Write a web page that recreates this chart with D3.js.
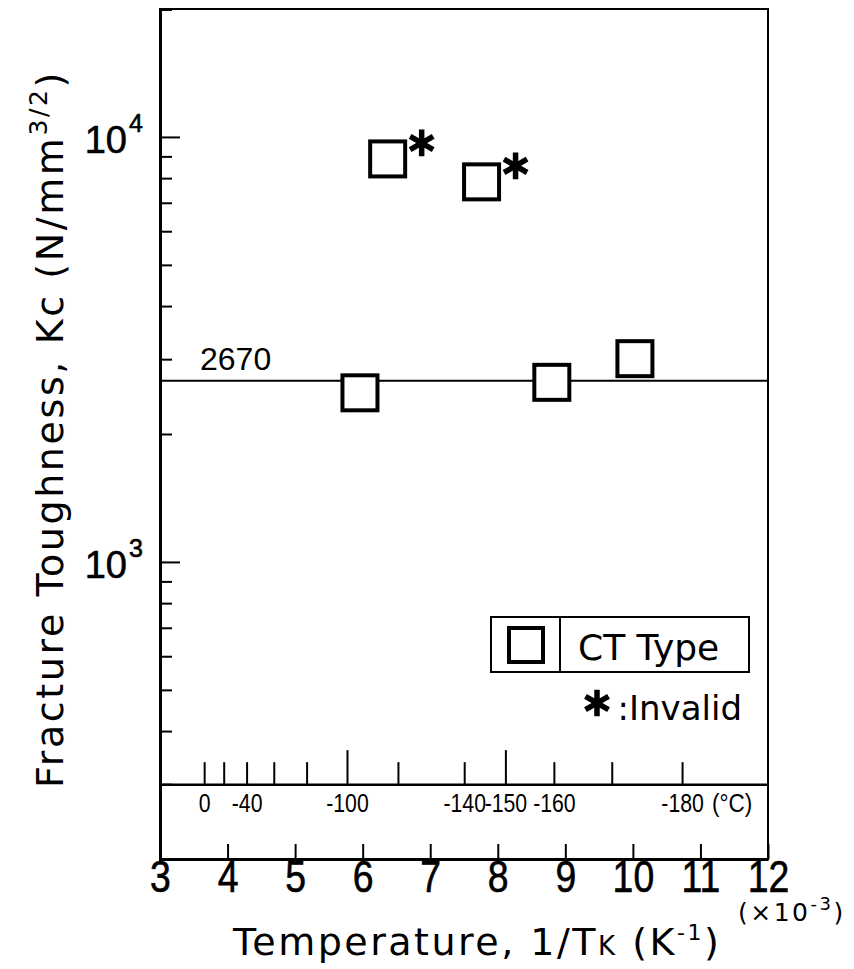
<!DOCTYPE html>
<html lang="en">
<head>
	<meta charset="UTF-8">
	<title>Fracture toughness</title>
	<script src="https://cdn.jsdelivr.net/npm/d3@7"></script>
	<style>
body {
	margin: 0;
	background: #fff;
}
svg {
	font-family: "Liberation Sans", Arial, sans-serif;
}
.axis path, .axis line {
	stroke: #000;
}
.axis text {
	fill: #000;
}
.wide {
	font-family: "DejaVu Sans", sans-serif;
}
.heavy {
	stroke: #000;
	stroke-width: 0.6px;
}
	</style>
</head>
<body>
	<svg width="854" height="969"></svg>
	<script type="text/javascript">
	// data
	var validInvT = [5.96, 8.80, 10.03];
	var validKc = [2500, 2646, 3008];
	var invalidInvT = [6.37, 7.76];
	var invalidKc = [8877, 7840];
	var meanKc = 2670;

	var xTicks = [3, 4, 5, 6, 7, 8, 9, 10, 11, 12];
	var yMajor = [1000, 10000];
	var yMinor = [300, 400, 500, 600, 700, 800, 900, 2000, 3000, 4000, 5000, 6000, 7000, 8000, 9000];
	var celsiusTicks = [0, -20, -40, -60, -80, -100, -120, -140, -150, -160, -170, -180];
	var celsiusLong = [-100, -150];
	var celsiusLabels = [0, -40, -100, -140, -150, -160, -180];

	var svg = d3.select("svg");
	var margin = {left: 160, right: 768, top: 9, bottom: 859};

	var x = d3.scaleLinear().domain([3, 12]).range([margin.left, margin.right]);
	var y = d3.scaleLog().domain([200, 20000]).range([margin.bottom, margin.top]);
	var cx = function(c) { return x(1000 / (c + 273.15)); };

	// frame
	svg.append("rect")
		.attr("x", margin.left).attr("y", margin.top)
		.attr("width", margin.right - margin.left).attr("height", margin.bottom - margin.top)
		.attr("fill", "none").attr("stroke", "#000").attr("stroke-width", 2);

	// left axis, ticks pointing inwards
	svg.append("g")
		.attr("class", "axis")
		.attr("transform", "translate(" + margin.left + ",0)")
		.call(d3.axisRight(y).tickValues(yMinor).tickSize(12).tickFormat(""))
		.call(function(g) { g.select(".domain").attr("stroke-width", 3); })
		.selectAll("line").attr("stroke-width", 2);
	svg.append("g")
		.attr("class", "axis")
		.attr("transform", "translate(" + margin.left + ",0)")
		.call(d3.axisRight(y).tickValues(yMajor).tickSize(20).tickFormat(""))
		.call(function(g) { g.select(".domain").remove(); })
		.selectAll("line").attr("stroke-width", 2);

	yMajor.forEach(function(v) {
		svg.append("text")
			.attr("class", "heavy")
			.attr("x", 127).attr("y", y(v) + 16)
			.attr("text-anchor", "end")
			.attr("font-size", 38)
			.text("10");
		svg.append("text")
			.attr("class", "heavy")
			.attr("x", 129).attr("y", y(v) - 5)
			.attr("font-size", 25)
			.text(Math.round(Math.log10(v)));
	});

	// bottom axis 1/T
	svg.append("g")
		.attr("class", "axis")
		.attr("transform", "translate(0," + margin.bottom + ")")
		.call(d3.axisBottom(x).tickValues(xTicks).tickSizeInner(-15).tickSizeOuter(0).tickPadding(2).tickFormat(d3.format("d")))
		.call(function(g) {
			g.select(".domain").attr("stroke-width", 3);
			g.selectAll("line").attr("stroke-width", 2);
			g.selectAll("text").attr("class", "heavy").attr("font-size", 44)
				.attr("transform", "scale(0.85,1)")
				.attr("font-family", "Liberation Sans, Arial, sans-serif");
		});

	// celsius scale inside the plot
	var yC = y(300);
	svg.append("g")
		.attr("class", "axis")
		.attr("transform", "translate(0," + yC + ")")
		.call(d3.axisBottom(x).tickValues([]).tickSizeOuter(0))
		.call(function(g) { g.select(".domain").attr("stroke-width", 2.5); });
	svg.append("g")
		.selectAll("line")
		.data(celsiusTicks)
		.enter().append("line")
		.attr("x1", cx).attr("x2", cx)
		.attr("y1", yC)
		.attr("y2", function(d) { return celsiusLong.indexOf(d) >= 0 ? yC - 34 : yC - 22; })
		.attr("stroke", "#000").attr("stroke-width", 2);
	svg.append("g")
		.selectAll("text")
		.data(celsiusLabels)
		.enter().append("text")
		.attr("transform", function(d) { return "translate(" + cx(d) + "," + (yC + 28) + ") scale(0.85,1)"; })
		.attr("text-anchor", "middle")
		.attr("font-size", 25)
		.text(function(d) { return d === 0 ? "0" : "-" + Math.abs(d); });
	svg.append("text")
		.attr("transform", "translate(712," + (yC + 28) + ") scale(0.9,1)")
		.attr("font-size", 25)
		.text("(\u00b0C)");

	// mean line
	svg.append("line")
		.attr("x1", margin.left).attr("x2", margin.right)
		.attr("y1", y(meanKc)).attr("y2", y(meanKc))
		.attr("stroke", "#000").attr("stroke-width", 2);
	svg.append("text")
		.attr("x", 200).attr("y", y(meanKc) - 11)
		.attr("font-size", 32)
		.text(meanKc);

	// points
	var sq = 35;
	var pts = validInvT.map(function(v, i) { return { t: v, k: validKc[i], bad: false }; })
		.concat(invalidInvT.map(function(v, i) { return { t: v, k: invalidKc[i], bad: true }; }));
	svg.append("g")
		.selectAll("rect")
		.data(pts)
		.enter().append("rect")
		.attr("x", function(d) { return x(d.t) - sq / 2; })
		.attr("y", function(d) { return y(d.k) - sq / 2; })
		.attr("width", sq).attr("height", sq)
		.attr("fill", "#fff").attr("stroke", "#000").attr("stroke-width", 4);

	var star = d3.symbol().type(d3.symbolAsterisk).size(500);
	svg.append("g")
		.selectAll("path")
		.data(pts.filter(function(d) { return d.bad; }))
		.enter().append("path")
		.attr("d", star)
		.attr("transform", function(d) { return "translate(" + (x(d.t) + 34) + "," + (y(d.k) - 16) + ")"; })
		.attr("fill", "none").attr("stroke", "#000").attr("stroke-width", 5.5);

	// legend
	var lg = svg.append("g");
	lg.append("rect")
		.attr("x", 491).attr("y", 617).attr("width", 258).attr("height", 55)
		.attr("fill", "#fff").attr("stroke", "#000").attr("stroke-width", 2);
	lg.append("line")
		.attr("x1", 560).attr("x2", 560).attr("y1", 617).attr("y2", 672)
		.attr("stroke", "#000").attr("stroke-width", 2);
	lg.append("rect")
		.attr("x", 509).attr("y", 628).attr("width", 34).attr("height", 34)
		.attr("fill", "#fff").attr("stroke", "#000").attr("stroke-width", 4);
	lg.append("text")
		.attr("class", "wide")
		.attr("x", 578).attr("y", 660)
		.attr("font-size", 36)
		.text("CT Type");
	lg.append("path")
		.attr("d", star)
		.attr("transform", "translate(597,703)")
		.attr("fill", "none").attr("stroke", "#000").attr("stroke-width", 5.5);
	lg.append("text")
		.attr("class", "wide")
		.attr("x", 742).attr("y", 720)
		.attr("text-anchor", "end")
		.attr("font-size", 34)
		.text(":Invalid");

	// axis titles
	var yl = svg.append("text")
		.attr("class", "wide")
		.attr("transform", "translate(63,429) rotate(-90)")
		.attr("text-anchor", "middle")
		.attr("font-size", 38)
		.attr("letter-spacing", 2.6);
	yl.append("tspan").text("Fracture Toughness, Kc (N/mm");
	yl.append("tspan").attr("dy", -16).attr("font-size", 25).text("3/2");
	yl.append("tspan").attr("dy", 16).text(")");

	var xl = svg.append("text")
		.attr("class", "wide")
		.attr("x", 233).attr("y", 955)
		.attr("font-size", 38)
		.attr("letter-spacing", 2.5);
	xl.append("tspan").text("Temperature, 1/T");
	xl.append("tspan").attr("font-size", 26).text("K");
	xl.append("tspan").text(" (K");
	xl.append("tspan").attr("dy", -15).attr("font-size", 22).text("-1");
	xl.append("tspan").attr("dy", 15).text(")");

	var xs = svg.append("text")
		.attr("class", "wide")
		.attr("x", 738).attr("y", 921)
		.attr("font-size", 25)
		.attr("letter-spacing", 2.5);
	xs.append("tspan").text("(\u00d710");
	xs.append("tspan").attr("dy", -11).attr("font-size", 18).text("-3");
	xs.append("tspan").attr("dy", 11).text(")");
	</script>
</body>
</html>
